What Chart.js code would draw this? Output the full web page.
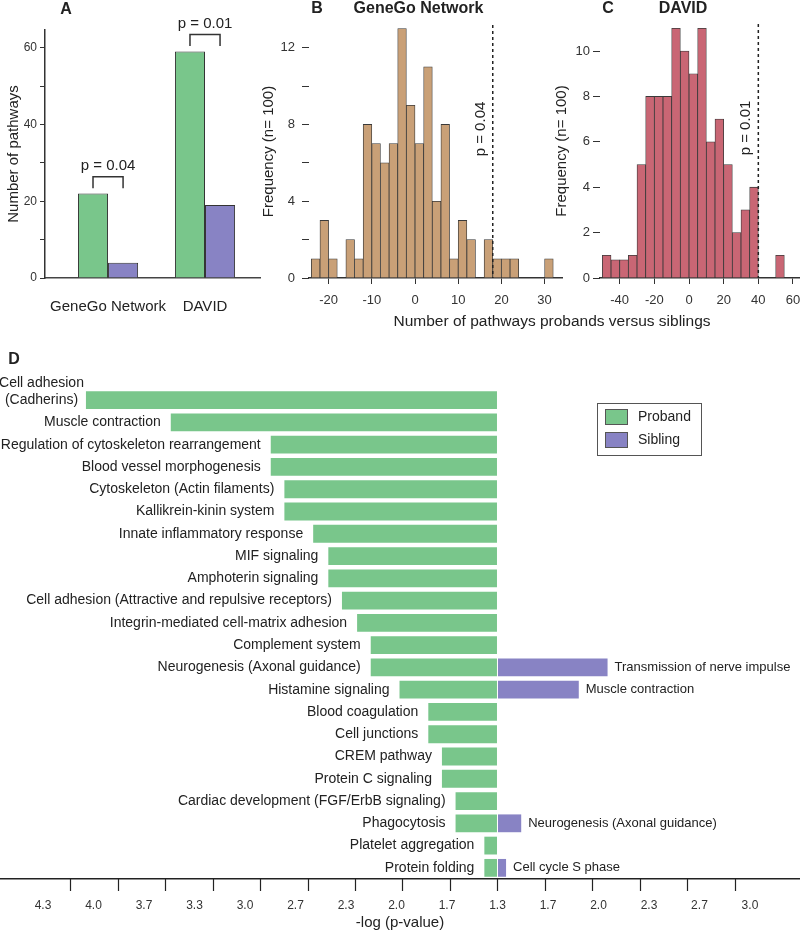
<!DOCTYPE html>
<html>
<head>
<meta charset="utf-8">
<script src="https://cdn.jsdelivr.net/npm/chart.js@4.4.0/dist/chart.umd.min.js"></script>
<style>
  body { margin: 0; background: #fff; overflow: hidden; }
  #wrap { position: relative; width: 800px; height: 932px; overflow: hidden; }
  canvas { position: absolute; }
</style>
</head>
<body>
<div id="wrap">
  <canvas id="chartA" width="262" height="335" style="left:0;top:0"></canvas>
  <canvas id="chartB" width="545" height="335" style="left:255px;top:0"></canvas>
  <canvas id="chartC" width="264" height="335" style="left:548px;top:0"></canvas>
  <canvas id="chartD" width="800" height="597" style="left:0;top:335px"></canvas>
</div>
<script>
// ---- panel A: number of enriched pathways
const groups = ['GeneGo Network', 'DAVID'];
const probandCounts = [22, 59];
const siblingCounts = [4, 19];
const groupPvals = ['p = 0.04', 'p = 0.01'];

// ---- panel B: GeneGo permutations (bin width 2)
const binsB = [-24, -22, -20, -18, -16, -14, -12, -10, -8, -6, -4, -2, 0, 2, 4, 6, 8, 10, 12, 14, 16, 18, 20, 22, 24, 26, 28, 30];
const freqB = [1, 3, 1, 0, 2, 1, 8, 7, 6, 7, 13, 9, 7, 11, 4, 8, 1, 3, 2, 0, 2, 1, 1, 1, 0, 0, 0, 1];
const ticksB = [-20, -10, 0, 10, 20, 30];
const observedB = 18;
const pvalB = 'p = 0.04';

// ---- panel C: DAVID permutations (bin width 5)
const binsC = [-50, -45, -40, -35, -30, -25, -20, -15, -10, -5, 0, 5, 10, 15, 20, 25, 30, 35, 40, 45, 50];
const freqC = [1, 0.8, 0.8, 1, 5, 8, 8, 8, 11, 10, 9, 11, 6, 7, 5, 2, 3, 4, 0, 0, 1];
const ticksC = [-40, -20, 0, 20, 40, 60];
const observedC = 40;
const pvalC = 'p = 0.01';

// ---- panel D: -log(p) of enriched pathways
const pathways = [
  ['Cell adhesion', '(Cadherins)'], 'Muscle contraction', 'Regulation of cytoskeleton rearrangement',
  'Blood vessel morphogenesis', 'Cytoskeleton (Actin filaments)', 'Kallikrein-kinin system',
  'Innate inflammatory response', 'MIF signaling', 'Amphoterin signaling',
  'Cell adhesion (Attractive and repulsive receptors)', 'Integrin-mediated cell-matrix adhesion',
  'Complement system', 'Neurogenesis (Axonal guidance)', 'Histamine signaling', 'Blood coagulation',
  'Cell junctions', 'CREM pathway', 'Protein C signaling', 'Cardiac development (FGF/ErbB signaling)',
  'Phagocytosis', 'Platelet aggregation', 'Protein folding'
];
const probandLogP = [4.05, 3.49, 2.83, 2.83, 2.74, 2.74, 2.55, 2.45, 2.45, 2.36, 2.26, 2.17, 2.17, 1.98, 1.79, 1.79, 1.70, 1.70, 1.61, 1.61, 1.42, 1.42];
const siblingLogP = [null, null, null, null, null, null, null, null, null, null, null, null, 2.06, 1.87, null, null, null, null, null, 1.49, null, 1.39];
const siblingPathways = [null, null, null, null, null, null, null, null, null, null, null, null,
  'Transmission of nerve impulse', 'Muscle contraction', null, null, null, null, null,
  'Neurogenesis (Axonal guidance)', null, 'Cell cycle S phase'];
const logTicks = ['4.3', '4.0', '3.7', '3.3', '3.0', '2.7', '2.3', '2.0', '1.7', '1.3', '1.7', '2.0', '2.3', '2.7', '3.0'];
const centerTick = logTicks.indexOf('1.3');
const logBase = 4 / 3;        // middle of the axis (shown as 1.3)
const tickMarkStep = 0.3135;  // tick marks sit a bit tighter than the labels

const green = '#79C68B';
const purple = '#8883C4';
const FONT = 'Arial, "Liberation Sans", sans-serif';

Chart.defaults.font.family = FONT;
Chart.defaults.color = '#333';
Chart.defaults.plugins.legend.display = false;
Chart.defaults.plugins.tooltip.enabled = false;

function drawText(ctx, text, x, y, font, align, angle) {
  ctx.save();
  ctx.translate(x, y);
  if (angle) ctx.rotate(angle);
  ctx.font = font;
  ctx.fillStyle = '#222';
  ctx.textAlign = align || 'center';
  ctx.textBaseline = 'middle';
  ctx.fillText(text, 0, 0);
  ctx.restore();
}

// brackets with p values above the bar pairs
const bracketsA = {
  id: 'bracketsA',
  afterDatasetsDraw(chart) {
    const ctx = chart.ctx;
    const y = chart.scales.y;
    const m0 = chart.getDatasetMeta(0), m1 = chart.getDatasetMeta(1);
    groups.forEach((g, i) => {
      const x1 = m0.data[i].x, x2 = m1.data[i].x;
      const top = y.getPixelForValue(probandCounts[i] + 4.4);
      const leg = y.getPixelForValue(probandCounts[i] + 1.4);
      ctx.save();
      ctx.strokeStyle = '#333';
      ctx.lineWidth = 1.5;
      ctx.beginPath();
      ctx.moveTo(x1, leg); ctx.lineTo(x1, top); ctx.lineTo(x2, top); ctx.lineTo(x2, leg);
      ctx.stroke();
      ctx.restore();
      drawText(ctx, groupPvals[i], (x1 + x2) / 2, top - 11, '15px ' + FONT);
    });
    drawText(ctx, 'A', 66, 10, 'bold 16px ' + FONT);
  }
};

new Chart(document.getElementById('chartA'), {
  type: 'bar',
  data: {
    datasets: [
      { label: 'Proband', data: groups.map((g, i) => ({ x: i, y: probandCounts[i] })), backgroundColor: green, borderColor: '#333', borderWidth: 1 },
      { label: 'Sibling', data: groups.map((g, i) => ({ x: i, y: siblingCounts[i] })), backgroundColor: purple, borderColor: '#333', borderWidth: 1 }
    ]
  },
  options: {
    responsive: false,
    animation: false,
    categoryPercentage: 0.62,
    barPercentage: 1,
    layout: { padding: { top: 30, left: 0, right: 2, bottom: 0 } },
    scales: {
      x: {
        type: 'linear', min: -0.65, max: 1.567, bounds: 'data', offset: false,
        afterBuildTicks: s => { s.ticks = groups.map((g, i) => ({ value: i })); },
        ticks: { callback: v => groups[v], font: { size: 15 }, color: '#222', padding: 20, maxRotation: 0, autoSkip: false },
        grid: { drawOnChartArea: false, drawTicks: false, offset: false },
        border: { color: '#444', width: 1.5 },
        afterFit: s => { s.height = 57; }
      },
      y: {
        min: 0, max: 64.6, bounds: 'data',
        ticks: { stepSize: 10, includeBounds: false, callback: v => (v % 20 === 0 ? v : ''), font: { size: 12 }, padding: 3 },
        grid: { drawOnChartArea: false, tickLength: 5, color: '#333' },
        border: { color: '#333', width: 1.5 },
        title: { display: true, text: 'Number of pathways', font: { size: 15 }, color: '#222', padding: { top: 5, bottom: 0 } },
        afterFit: s => { s.width = 45; }
      }
    }
  },
  plugins: [bracketsA]
});

// dashed observed value, panel letter and title for the permutation histograms
function permutationMarks(cfg) {
  return {
    id: 'marks' + cfg.letter,
    afterDatasetsDraw(chart) {
      const ctx = chart.ctx;
      const area = chart.chartArea;
      const px = chart.scales.x.getPixelForValue(cfg.observed);
      ctx.save();
      ctx.strokeStyle = '#222';
      ctx.lineWidth = 1.5;
      ctx.setLineDash([3, 3]);
      ctx.beginPath();
      ctx.moveTo(px, area.top);
      ctx.lineTo(px, area.bottom);
      ctx.stroke();
      ctx.restore();
      drawText(ctx, cfg.pval, px - 12, area.top + 104, '15px ' + FONT, 'center', -Math.PI / 2);
      drawText(ctx, cfg.letter, area.left + 8, 9, 'bold 16px ' + FONT);
      drawText(ctx, cfg.title, (area.left + area.right) / 2 - 17, 9, 'bold 16px ' + FONT);
      if (cfg.xTitle) drawText(ctx, cfg.xTitle, 297, 322, '15.5px ' + FONT);
    }
  };
}

function histogram(canvasId, cfg) {
  return new Chart(document.getElementById(canvasId), {
    type: 'bar',
    data: {
      datasets: [{
        data: cfg.bins.map((b, i) => ({ x: b + cfg.binWidth / 2, y: cfg.freq[i] || null })),
        backgroundColor: cfg.color,
        borderColor: '#3a3a3a',
        borderWidth: 0.8
      }]
    },
    options: {
      responsive: false,
      animation: false,
      barPercentage: 1,
      categoryPercentage: 1,
      layout: { padding: { top: cfg.top, right: cfg.right, left: 0, bottom: 0 } },
      scales: {
        x: {
          type: 'linear', min: cfg.xMin, max: cfg.xMax, bounds: 'data', offset: false,
          afterBuildTicks: s => { s.ticks = cfg.xTicks.map(v => ({ value: v })); },
          ticks: { font: { size: 13 }, padding: 9, maxRotation: 0, autoSkip: false },
          grid: { drawOnChartArea: false, tickLength: 6, color: '#333', offset: false },
          border: { color: '#333', width: 1.5 },
          afterFit: s => { s.height = 57; }
        },
        y: {
          min: 0, max: cfg.yMax, bounds: 'data',
          ticks: { stepSize: cfg.yStep, includeBounds: false, callback: v => (v % cfg.yLabelStep === 0 ? v : ''), font: { size: 13 }, padding: cfg.tickPad },
          grid: { drawOnChartArea: false, tickLength: 7, color: '#333' },
          border: { display: false },
          title: { display: true, text: 'Frequency (n= 100)', font: { size: 15 }, color: '#222', padding: { top: 5, bottom: 0 } },
          afterFit: s => { s.width = cfg.axisWidth; }
        }
      }
    },
    plugins: [permutationMarks(cfg)]
  });
}

histogram('chartB', {
  letter: 'B', title: 'GeneGo Network', xTitle: 'Number of pathways probands versus siblings',
  bins: binsB, freq: freqB, binWidth: 2, color: '#C9A077', xTicks: ticksB,
  observed: observedB, pval: pvalB,
  xMin: -24.54, xMax: 34.03, yMax: 13.18, yStep: 2, yLabelStep: 4,
  top: 25, right: 238, axisWidth: 54, tickPad: 7
});

histogram('chartC', {
  letter: 'C', title: 'DAVID',
  bins: binsC, freq: freqC, binWidth: 5, color: '#C96674', xTicks: ticksC,
  observed: observedC, pval: pvalC,
  xMin: -51.36, xMax: 64.05, yMax: 11.19, yStep: 2, yLabelStep: 2,
  top: 24, right: 12, axisWidth: 52, tickPad: 3
});

// pathway names, legend and tick marks for panel D
const labelsD = {
  id: 'labelsD',
  afterDatasetsDraw(chart) {
    const ctx = chart.ctx;
    const pro = chart.getDatasetMeta(0).data;
    const sib = chart.getDatasetMeta(1).data;
    pathways.forEach((name, i) => {
      const bar = pro[i];
      const left = Math.min(bar.x, bar.base);
      if (Array.isArray(name)) {
        ctx.font = '14px ' + FONT;
        const w = Math.max(...name.map(n => ctx.measureText(n).width));
        name.forEach((line, k) => {
          drawText(ctx, line, left - 2 - w / 2, bar.y - (name.length - 1 - k) * 17, '14px ' + FONT);
        });
      } else {
        drawText(ctx, name, left - 10, bar.y, '14px ' + FONT, 'right');
      }
      if (siblingLogP[i] !== null) {
        const s = sib[i];
        drawText(ctx, siblingPathways[i], Math.max(s.x, s.base) + 7, s.y, '13px ' + FONT, 'left');
      }
    });

    // legend box
    ctx.save();
    ctx.strokeStyle = '#555';
    ctx.lineWidth = 1;
    ctx.strokeRect(597.5, 68.5, 104, 52);
    chart.data.datasets.forEach((ds, k) => {
      const y = 74 + k * 23;
      ctx.fillStyle = ds.backgroundColor;
      ctx.fillRect(605, y, 23, 16);
      ctx.strokeRect(605.5, y + 0.5, 22, 15);
      drawText(ctx, ds.label, 638, y + 8, '14px ' + FONT, 'left');
    });

    // tick marks under the axis
    const xs = chart.scales.x;
    ctx.strokeStyle = '#222';
    ctx.lineWidth = 1.2;
    logTicks.forEach((t, i) => {
      const px = Math.round(xs.getPixelForValue((i - centerTick) * tickMarkStep)) + 0.5;
      ctx.beginPath();
      ctx.moveTo(px, xs.top);
      ctx.lineTo(px, xs.top + 12);
      ctx.stroke();
    });
    ctx.restore();

    drawText(ctx, 'D', 14, 25, 'bold 16px ' + FONT);
  }
};

new Chart(document.getElementById('chartD'), {
  type: 'bar',
  data: {
    labels: pathways,
    datasets: [
      { label: 'Proband', data: probandLogP.map(v => [logBase - v, 0]), backgroundColor: green, grouped: false },
      { label: 'Sibling', data: siblingLogP.map(v => (v === null ? null : [0, v - logBase])), backgroundColor: purple, grouped: false }
    ]
  },
  options: {
    indexAxis: 'y',
    responsive: false,
    animation: false,
    barPercentage: 0.8,
    categoryPercentage: 1,
    layout: { padding: { top: 54, left: 0, right: 0, bottom: 0 } },
    scales: {
      y: { display: false },
      x: {
        type: 'linear', min: -3.284, max: 1.997, bounds: 'data',
        afterBuildTicks: s => { s.ticks = logTicks.map((t, i) => ({ value: (i - centerTick) / 3 })); },
        ticks: { callback: (v, i) => logTicks[i], autoSkip: false, maxRotation: 0, font: { size: 12 }, padding: 19 },
        grid: { drawOnChartArea: false, drawTicks: false },
        border: { color: '#222', width: 1.5 },
        title: { display: true, text: '-log (p-value)', font: { size: 15 }, color: '#222', padding: 0 },
        afterFit: s => { s.height = 53; }
      }
    }
  },
  plugins: [labelsD]
});
</script>
</body>
</html>
